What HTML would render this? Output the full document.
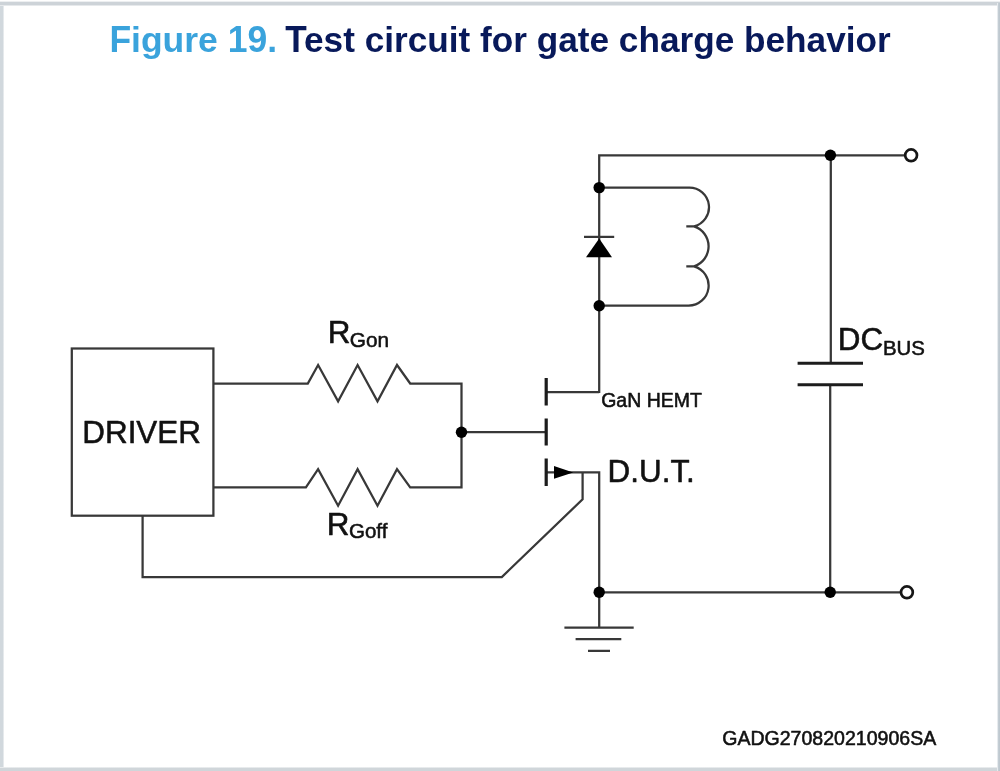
<!DOCTYPE html>
<html><head><meta charset="utf-8">
<style>
html,body{margin:0;padding:0;background:#fff;}
body{width:1000px;height:771px;position:relative;overflow:hidden;font-family:"Liberation Sans",sans-serif;}
.bd{position:absolute;}
#bl{left:0;top:1px;width:4.4px;height:770px;background:linear-gradient(to right,#d1d8dd 0,#d1d8dd 2.8px,#fff 4.4px);}
#bt{left:0;top:1px;width:1000px;height:5.4px;background:linear-gradient(to bottom,#fff 0,#cdd3d8 1.4px,#cdd3d8 3.6px,#fff 5.4px);}
#br{left:996.8px;top:3px;width:3.2px;height:768px;z-index:2;background:linear-gradient(to right,#fff 0,#c6cfd6 1.2px,#bac4cb 3.2px);}
#bb{left:0;top:766.6px;width:1000px;height:4.4px;background:linear-gradient(to bottom,#fff 0,#d0d6da 1px,#d0d6da 4.4px);}
svg{position:absolute;left:0;top:0;filter:blur(0.55px);}
text{font-family:"Liberation Sans",sans-serif;}
</style></head><body>
<div class="bd" id="bl"></div><div class="bd" id="br"></div><div class="bd" id="bt"></div><div class="bd" id="bb"></div>
<svg width="1000" height="771" viewBox="0 0 1000 771">
<g id="title" font-weight="bold">
<g fill="#3aa3dc" font-size="35.5">
<text transform="translate(109.4 52.1) scale(1 1.04)">F</text>
<text x="131.07" y="52.1">igure</text>
<text transform="translate(227.73 52.1) scale(1 1.04)">19</text>
<text x="267.21" y="52.1">.</text>
</g>
<g fill="#08195a" font-size="35.2">
<text transform="translate(285.2 52.1) scale(1 1.04)">T</text>
<text x="304.04" y="52.1">est circuit for gate charge behavior</text>
</g>
</g>
<g fill="none" stroke="#383838" stroke-width="2.25" stroke-linejoin="miter" stroke-linecap="butt">
<!-- top rail -->
<path d="M599.2 393 V155.3 H905"/>
<!-- inductor -->
<path d="M599.2 187.7 H689 A19.63 19.63 0 0 1 694 226.4 H686.3 M694 226.4 A20.93 20.93 0 0 1 694 266.3 H686.3 M694 266.3 A20.02 20.02 0 0 1 688.6 305.6 H599.2"/>
<!-- diode bar -->
<path d="M584 236.9 H614.2"/>
<!-- cap -->
<path d="M830.8 155.3 V363 M830.2 384.6 V592.3"/>
<!-- bottom rail -->
<path d="M599.2 592.3 H901"/>
<!-- ground -->
<path d="M599.2 592.3 V627.7 M564.4 627.7 H633.7 M575.6 639 H621.3 M588 650.9 H610"/>
<!-- driver box -->
<rect x="71.8" y="348.5" width="141.6" height="167.2"/>
<!-- top resistor -->
<path d="M213.4 383.5 H307.8 L318.1 365 L338.1 401.4 L357.6 365 L377.5 401.4 L397 365 L410.2 383.5 H461.5 V487.4 H410.2 L397 469.2 L377.5 505.7 L357.6 469.2 L338.1 505.7 L318.1 469.2 L305.9 487.4 H213.4"/>
<!-- gate wire -->
<path d="M461.5 432.2 H546.2"/>
<!-- drain, source -->
<path d="M546 392.1 H599.2 M546 472.4 H599.2 V592.3"/>
<!-- kelvin -->
<path d="M582.6 472.4 V499.3 L501.8 577 H142.6 V515.7"/>
</g>
<g fill="none" stroke="#1c1c1c" stroke-width="3.2">
<path d="M797.6 363.2 H863 M797.6 384.7 H863" stroke-width="3"/>
<path d="M546.2 378.1 V405.4 M546.2 418.6 V445.5 M546.2 458.5 V485.9"/>
</g>
<g fill="#000" stroke="none">
<circle cx="599.2" cy="187.6" r="5.7"/>
<circle cx="599.2" cy="305.7" r="5.7"/>
<circle cx="830.4" cy="155.3" r="5.7"/>
<circle cx="830.2" cy="592.3" r="5.7"/>
<circle cx="599.2" cy="592.3" r="5.7"/>
<circle cx="461.5" cy="432.2" r="5.7"/>
<path d="M599.2 238.5 L612 257.3 H586 Z"/>
<path d="M554 466 L573.2 472.4 L554 478.8 Z"/>
</g>
<g fill="#fff" stroke="#161616" stroke-width="2.7">
<circle cx="911.1" cy="155.3" r="5.9"/>
<circle cx="906.9" cy="592.3" r="5.9"/>
</g>
<g fill="#111" stroke="#111" stroke-width="0.55" stroke-linejoin="round">
<text id="drv" transform="translate(82.3 442.6) scale(1 1.015)" font-size="31.4">DRIVER</text>
<text id="rg1" transform="translate(327.7 343) scale(1 1.015)" font-size="31.4">R</text>
<text id="rg1s" transform="translate(349.8 347.2) scale(1 1)" font-size="20.8">Gon</text>
<text id="rg2" transform="translate(326.7 534.6) scale(1 1.015)" font-size="31.4">R</text>
<text id="rg2s" transform="translate(349 538.3) scale(1 1)" font-size="20.5">Goff</text>
<text id="dc" transform="translate(837.8 350.2) scale(1 1.015)" font-size="31.4">DC</text>
<text id="bus" transform="translate(883 354.6) scale(1 1.02)" font-size="20.4">BUS</text>
<text id="gan" transform="translate(601.2 406.5) scale(1 1.02)" font-size="19.5">GaN HEMT</text>
<text id="dut" transform="translate(607.6 482.1) scale(1 1.015)" font-size="31.4">D.U.T.</text>
<text id="code" transform="translate(722.2 744.6) scale(1 1.02)" font-size="19.55">GADG270820210906SA</text>
</g>
</svg>
</body></html>
